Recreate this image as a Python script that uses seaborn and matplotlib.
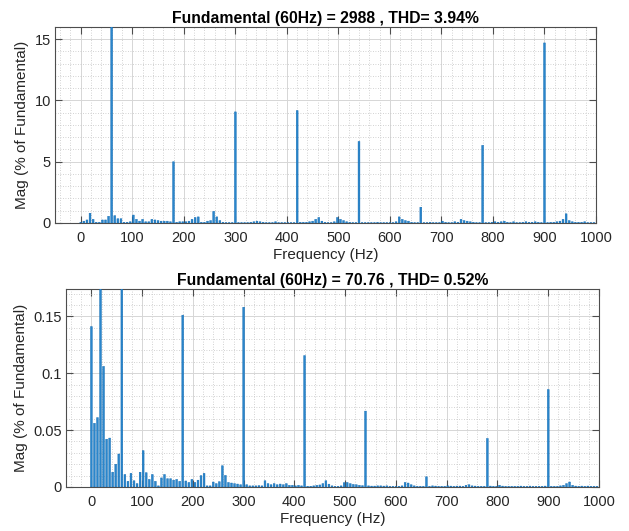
import numpy as np
import pandas as pd
import matplotlib
matplotlib.use("Agg")
import matplotlib.pyplot as plt
from matplotlib.ticker import MultipleLocator, FuncFormatter
import seaborn as sns

# FFT bin spacing (Hz) and bin centres
BIN_HZ = 6
freqs = np.arange(0, 1000, BIN_HZ)

# Harmonic spectrum of the first signal, % of fundamental (one row = 60 Hz)
mag_a = [
    0.05, 0.15, 0.25, 0.8, 0.3, 0.05, 0.05, 0.25, 0.25, 0.55,
    100.0, 0.6, 0.35, 0.35, 0.05, 0.05, 0.1, 0.65, 0.3, 0.15,
    0.3, 0.1, 0.1, 0.3, 0.25, 0.2, 0.15, 0.15, 0.15, 0.1,
    5.0, 0.05, 0.1, 0.1, 0.1, 0.15, 0.3, 0.45, 0.5, 0.05,
    0.05, 0.15, 0.2, 0.95, 0.5, 0.2, 0.05, 0.02, 0.02, 0.02,
    9.07, 0.02, 0.02, 0.02, 0.02, 0.05, 0.1, 0.15, 0.1, 0.05,
    0.02, 0.02, 0.02, 0.1, 0.02, 0.02, 0.02, 0.02, 0.02, 0.02,
    9.18, 0.05, 0.05, 0.05, 0.1, 0.15, 0.3, 0.45, 0.15, 0.05,
    0.02, 0.02, 0.1, 0.45, 0.3, 0.2, 0.1, 0.05, 0.02, 0.02,
    6.66, 0.02, 0.02, 0.02, 0.02, 0.02, 0.05, 0.02, 0.02, 0.02,
    0.02, 0.02, 0.1, 0.5, 0.3, 0.2, 0.15, 0.05, 0.02, 0.02,
    1.29, 0.02, 0.02, 0.05, 0.02, 0.02, 0.02, 0.15, 0.05, 0.02,
    0.02, 0.1, 0.05, 0.3, 0.2, 0.15, 0.1, 0.05, 0.02, 0.02,
    6.34, 0.02, 0.02, 0.05, 0.1, 0.05, 0.1, 0.15, 0.05, 0.02,
    0.1, 0.02, 0.02, 0.05, 0.1, 0.05, 0.05, 0.1, 0.05, 0.02,
    14.7, 0.02, 0.05, 0.05, 0.1, 0.15, 0.3, 0.75, 0.2, 0.1,
    0.05, 0.05, 0.05, 0.1, 0.02, 0.02, 0.02,
]

# Harmonic spectrum of the second signal, % of fundamental
mag_b = [
    0.141, 0.056, 0.061, 0.25, 0.106, 0.042, 0.043, 0.013, 0.020, 0.029,
    100.0, 0.011, 0.005, 0.012, 0.0055, 0.003, 0.013, 0.032, 0.0126, 0.0067,
    0.011, 0.005, 0.001, 0.008, 0.011, 0.0073, 0.0073, 0.006, 0.0067, 0.005,
    0.151, 0.0053, 0.004, 0.0067, 0.004, 0.006, 0.010, 0.012, 0.001, 0.001,
    0.0044, 0.003, 0.0047, 0.0187, 0.0102, 0.004, 0.0035, 0.003, 0.0026, 0.002,
    0.158, 0.002, 0.001, 0.001, 0.001, 0.0012, 0.001, 0.0055, 0.003, 0.002,
    0.003, 0.002, 0.0026, 0.002, 0.003, 0.0015, 0.0015, 0.001, 0.0015, 0.001,
    0.1155, 0.0006, 0.0006, 0.001, 0.0015, 0.0018, 0.003, 0.0055, 0.0025, 0.001,
    0.0005, 0.0005, 0.001, 0.0038, 0.004, 0.003, 0.0023, 0.002, 0.0015, 0.0012,
    0.0667, 0.001, 0.0008, 0.0008, 0.001, 0.001, 0.0008, 0.001, 0.0005, 0.0005,
    0.0005, 0.0005, 0.001, 0.004, 0.0035, 0.002, 0.001, 0.0005, 0.0005, 0.0005,
    0.009, 0.0005, 0.001, 0.0008, 0.0005, 0.0005, 0.0005, 0.001, 0.0008, 0.0005,
    0.0008, 0.0008, 0.0005, 0.0015, 0.002, 0.001, 0.0008, 0.0005, 0.0005, 0.0005,
    0.0427, 0.0008, 0.0005, 0.0005, 0.0015, 0.0008, 0.0005, 0.0005, 0.0005, 0.0005,
    0.0005, 0.0008, 0.0005, 0.0005, 0.0008, 0.0005, 0.0005, 0.0005, 0.0005, 0.0008,
    0.0857, 0.0005, 0.0005, 0.0005, 0.001, 0.0015, 0.003, 0.0044, 0.0015, 0.0008,
    0.0005, 0.0008, 0.0005, 0.0008, 0.0005, 0.0005, 0.0005,
]

titles = [
    "Fundamental (60Hz) = 2988 , THD= 3.94%",
    "Fundamental (60Hz) = 70.76 , THD= 0.52%",
]
y_limits = [16, 0.174]
y_major = [5, 0.05]
y_minor = [1, 0.01]
x_ticks = list(range(0, 1001, 100))

sns.set_theme(style="white")
plt.rcParams["font.family"] = ["Liberation Sans", "DejaVu Sans"]

AX_COLOR = "#262626"
SPINE_COLOR = "#4d4d4d"
BAR_FACE = "#2a86cc"
BAR_EDGE = "#0a66b0"

fig = plt.figure(figsize=(6.29, 5.31), dpi=100)
fig.patch.set_facecolor("white")
axes = [
    fig.add_axes([55 / 629, 1 - 223 / 531, 541 / 629, 196 / 531]),
    fig.add_axes([66 / 629, 1 - 487 / 531, 533 / 629, 198 / 531]),
]

for ax, mags, title, ytop, ymaj, ymin in zip(
        axes, [mag_a, mag_b], titles, y_limits, y_major, y_minor):
    df = pd.DataFrame({"freq": freqs, "mag": mags})
    sns.barplot(data=df, x="freq", y="mag", native_scale=True, width=0.6,
                errorbar=None, color=BAR_FACE, saturation=1,
                edgecolor=BAR_EDGE, linewidth=0.3, ax=ax, zorder=3)
    # keep every bar the same rendered width instead of snapping to pixels
    for patch in ax.patches:
        patch.set_snap(False)

    ax.set_xlim(-50, 1000)
    ax.set_ylim(0, ytop)
    ax.set_xticks(x_ticks)
    ax.xaxis.set_minor_locator(MultipleLocator(20))
    ax.yaxis.set_major_locator(MultipleLocator(ymaj))
    ax.yaxis.set_minor_locator(MultipleLocator(ymin))
    ax.yaxis.set_major_formatter(FuncFormatter(lambda v, p: f"{v:g}"))
    ax.xaxis.set_major_formatter(FuncFormatter(lambda v, p: f"{v:g}"))

    ax.grid(True, which="major", color="#d6d6d6", linewidth=0.7, linestyle="-", zorder=0)
    ax.grid(True, which="minor", color="#c4c4c4", linewidth=0.6, linestyle=(0, (1, 2)), zorder=0)
    ax.set_axisbelow(True)

    for s in ax.spines.values():
        s.set_visible(True)
        s.set_color(SPINE_COLOR)
        s.set_linewidth(0.8)

    ax.tick_params(axis="x", which="major", pad=6)
    ax.tick_params(axis="y", which="major", pad=3)
    ax.tick_params(axis="both", which="major", direction="in", length=5, width=0.8,
                   color=SPINE_COLOR, labelcolor=AX_COLOR, labelsize=10.5,
                   top=True, right=True, bottom=True, left=True)
    ax.tick_params(axis="both", which="minor", length=0)

    ax.set_title(title, fontsize=11.3, fontweight="bold", color="black", pad=3)
    ax.set_xlabel("Frequency (Hz)", fontsize=11, color=AX_COLOR, labelpad=2)
    ax.set_ylabel("Mag (% of Fundamental)", fontsize=11, color=AX_COLOR, labelpad=4)

fig.savefig("out.png", dpi=100, facecolor="white")
